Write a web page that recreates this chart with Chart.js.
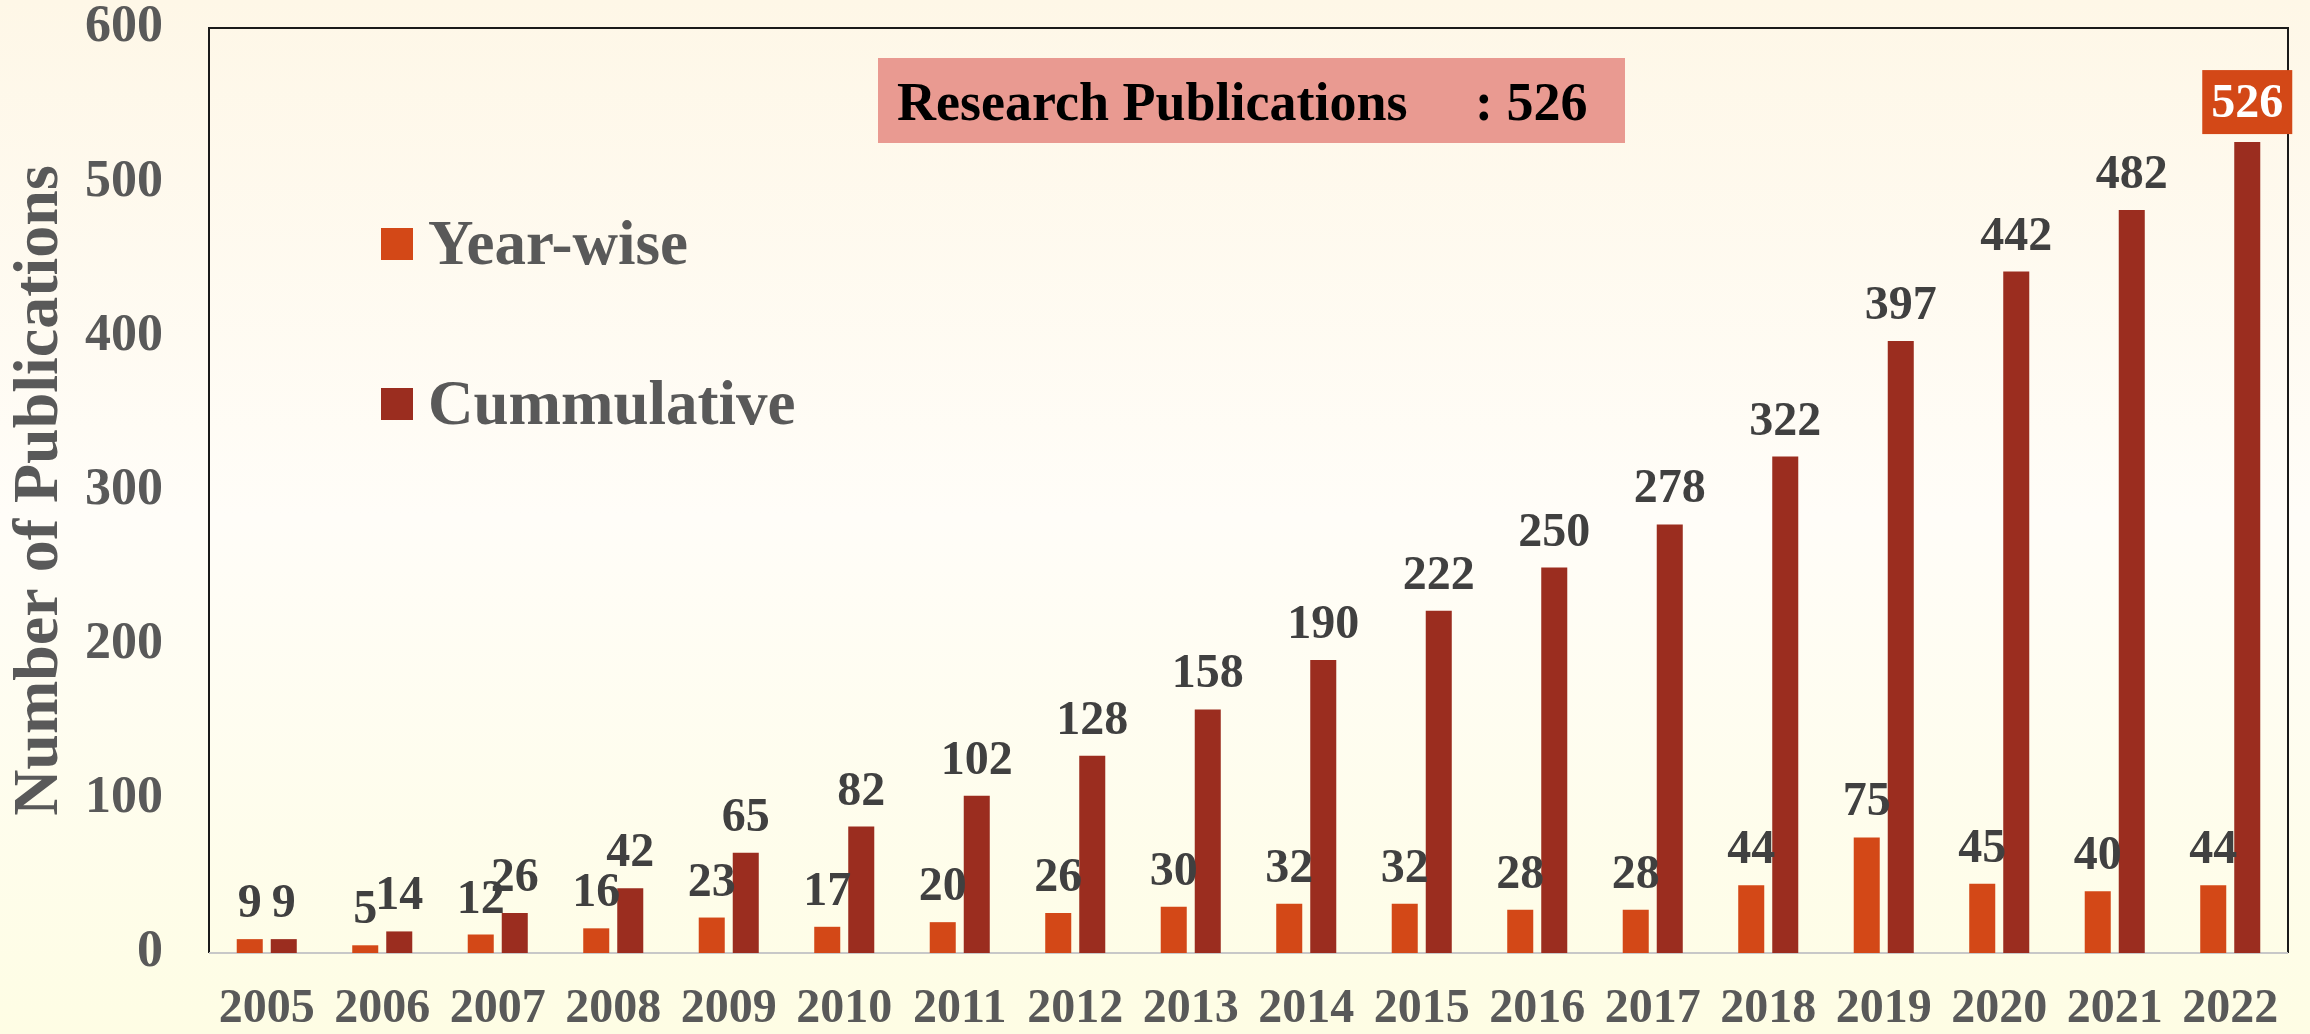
<!DOCTYPE html>
<html>
<head>
<meta charset="utf-8">
<script src="https://cdn.jsdelivr.net/npm/chart.js@4.4.0/dist/chart.umd.min.js"></script>
<style>
html,body{margin:0;padding:0;background:#fffdf5;}
canvas{display:block;}
</style>
</head>
<body>
<canvas id="c" width="2310" height="1034"></canvas>
<script>
const years = ['2005','2006','2007','2008','2009','2010','2011','2012','2013','2014','2015','2016','2017','2018','2019','2020','2021','2022'];
const yearWise = [9,5,12,16,23,17,20,26,30,32,32,28,28,44,75,45,40,44];
const cumulative = [9,14,26,42,65,82,102,128,158,190,222,250,278,322,397,442,482,526];
const yTicks = [0,100,200,300,400,500,600];
const seriesNames = ['Year-wise','Cummulative'];
const seriesColors = ['#D34817','#9B2D1F'];
const axisTitle = 'Number of Publications';
const summaryLabel = 'Research Publications';
const summaryValue = ': 526';

const FONT = '"Liberation Serif", "Times New Roman", serif';

const bgPlugin = {
  id: 'bg',
  beforeDraw(chart) {
    const {ctx, width, height} = chart;
    const g = ctx.createLinearGradient(0, 0, 0, height);
    g.addColorStop(0, '#FEF7E7');
    g.addColorStop(0.5, '#FFFDF8');
    g.addColorStop(1, '#FEFDE4');
    ctx.save();
    ctx.fillStyle = g;
    ctx.fillRect(0, 0, width, height);
    ctx.restore();
  }
};

const framePlugin = {
  id: 'frame',
  beforeDatasetsDraw(chart) {
    const {ctx, chartArea: a} = chart;
    ctx.save();
    ctx.strokeStyle = '#1a1a1a';
    ctx.lineWidth = 2;
    ctx.beginPath();
    ctx.moveTo(a.left, a.bottom);
    ctx.lineTo(a.left, a.top);
    ctx.lineTo(a.right, a.top);
    ctx.lineTo(a.right, a.bottom);
    ctx.stroke();
    ctx.strokeStyle = '#C8C8C8';
    ctx.beginPath();
    ctx.moveTo(a.left, a.bottom);
    ctx.lineTo(a.right, a.bottom);
    ctx.stroke();
    ctx.restore();
  }
};

const labelPlugin = {
  id: 'valueLabels',
  afterDatasetsDraw(chart) {
    const ctx = chart.ctx;
    ctx.save();
    ctx.font = 'bold 48px ' + FONT;
    ctx.textAlign = 'center';
    ctx.textBaseline = 'alphabetic';
    chart.data.datasets.forEach((ds, di) => {
      const meta = chart.getDatasetMeta(di);
      meta.data.forEach((bar, i) => {
        const txt = String(ds.data[i]);
        const highlight = di === 1 && i === ds.data.length - 1;
        if (highlight) {
          const w = ctx.measureText(txt).width + 18;
          ctx.fillStyle = '#D34817';
          ctx.fillRect(bar.x - w / 2, bar.y - 72, w, 64);
          ctx.fillStyle = '#FFFFFF';
          ctx.fillText(txt, bar.x, bar.y - 25);
        } else {
          ctx.fillStyle = '#404040';
          ctx.fillText(txt, bar.x, bar.y - 22);
        }
      });
    });
    ctx.restore();
  }
};

const legendPlugin = {
  id: 'insideLegend',
  afterDraw(chart) {
    const {ctx, chartArea: a} = chart;
    ctx.save();
    ctx.font = 'bold 63px ' + FONT;
    ctx.textAlign = 'left';
    ctx.textBaseline = 'alphabetic';
    chart.data.datasets.forEach((ds, di) => {
      const cy = a.top + 216 + di * 160;
      const sx = a.left + 172;
      ctx.fillStyle = ds.backgroundColor;
      ctx.fillRect(sx, cy - 16, 32, 32);
      ctx.fillStyle = '#595959';
      ctx.fillText(ds.label, sx + 47, cy + 20);
    });
    ctx.restore();
  }
};

const summaryPlugin = {
  id: 'summary',
  afterDraw(chart) {
    const {ctx, chartArea: a} = chart;
    const bx = a.left + 669, by = a.top + 30, bw = 747, bh = 85;
    ctx.save();
    ctx.fillStyle = '#E99A91';
    ctx.fillRect(bx, by, bw, bh);
    ctx.fillStyle = '#000000';
    ctx.font = 'bold 54px ' + FONT;
    ctx.textBaseline = 'alphabetic';
    ctx.textAlign = 'left';
    ctx.fillText(summaryLabel, bx + 19, by + 62);
    ctx.fillText(summaryValue, bx + 597, by + 62);
    ctx.restore();
  }
};

new Chart(document.getElementById('c'), {
  type: 'bar',
  data: {
    labels: years,
    datasets: [
      {label: seriesNames[0], data: yearWise, backgroundColor: seriesColors[0], barPercentage: 0.765, categoryPercentage: 0.589},
      {label: seriesNames[1], data: cumulative, backgroundColor: seriesColors[1], barPercentage: 0.765, categoryPercentage: 0.589}
    ]
  },
  options: {
    responsive: false,
    devicePixelRatio: 1,
    animation: false,
    layout: {padding: {left: 0, top: 28, right: 22, bottom: 0}},
    plugins: {legend: {display: false}, tooltip: {enabled: false}, title: {display: false}},
    scales: {
      x: {
        grid: {display: false, drawTicks: false},
        border: {display: false},
        ticks: {color: '#595959', font: {family: FONT, size: 48, weight: 'bold'}, padding: 28, maxRotation: 0, autoSkip: false},
        afterFit(s) { s.height = 81; s.paddingLeft = 0; s.paddingRight = 0; }
      },
      y: {
        min: 0, max: 600,
        grid: {display: false, drawTicks: false},
        border: {display: false},
        afterBuildTicks(s) { s.ticks = yTicks.map(v => ({value: v})); },
        ticks: {color: '#595959', font: {family: FONT, size: 52, weight: 'bold', lineHeight: 1}, padding: 46},
        title: {display: true, text: axisTitle, color: '#595959', font: {family: FONT, size: 64, weight: 'bold'}, padding: {top: 2, bottom: 0}},
        afterFit(s) { s.width = 209; s.paddingTop = 0; s.paddingBottom = 0; }
      }
    }
  },
  plugins: [bgPlugin, framePlugin, labelPlugin, legendPlugin, summaryPlugin]
});
</script>
</body>
</html>
